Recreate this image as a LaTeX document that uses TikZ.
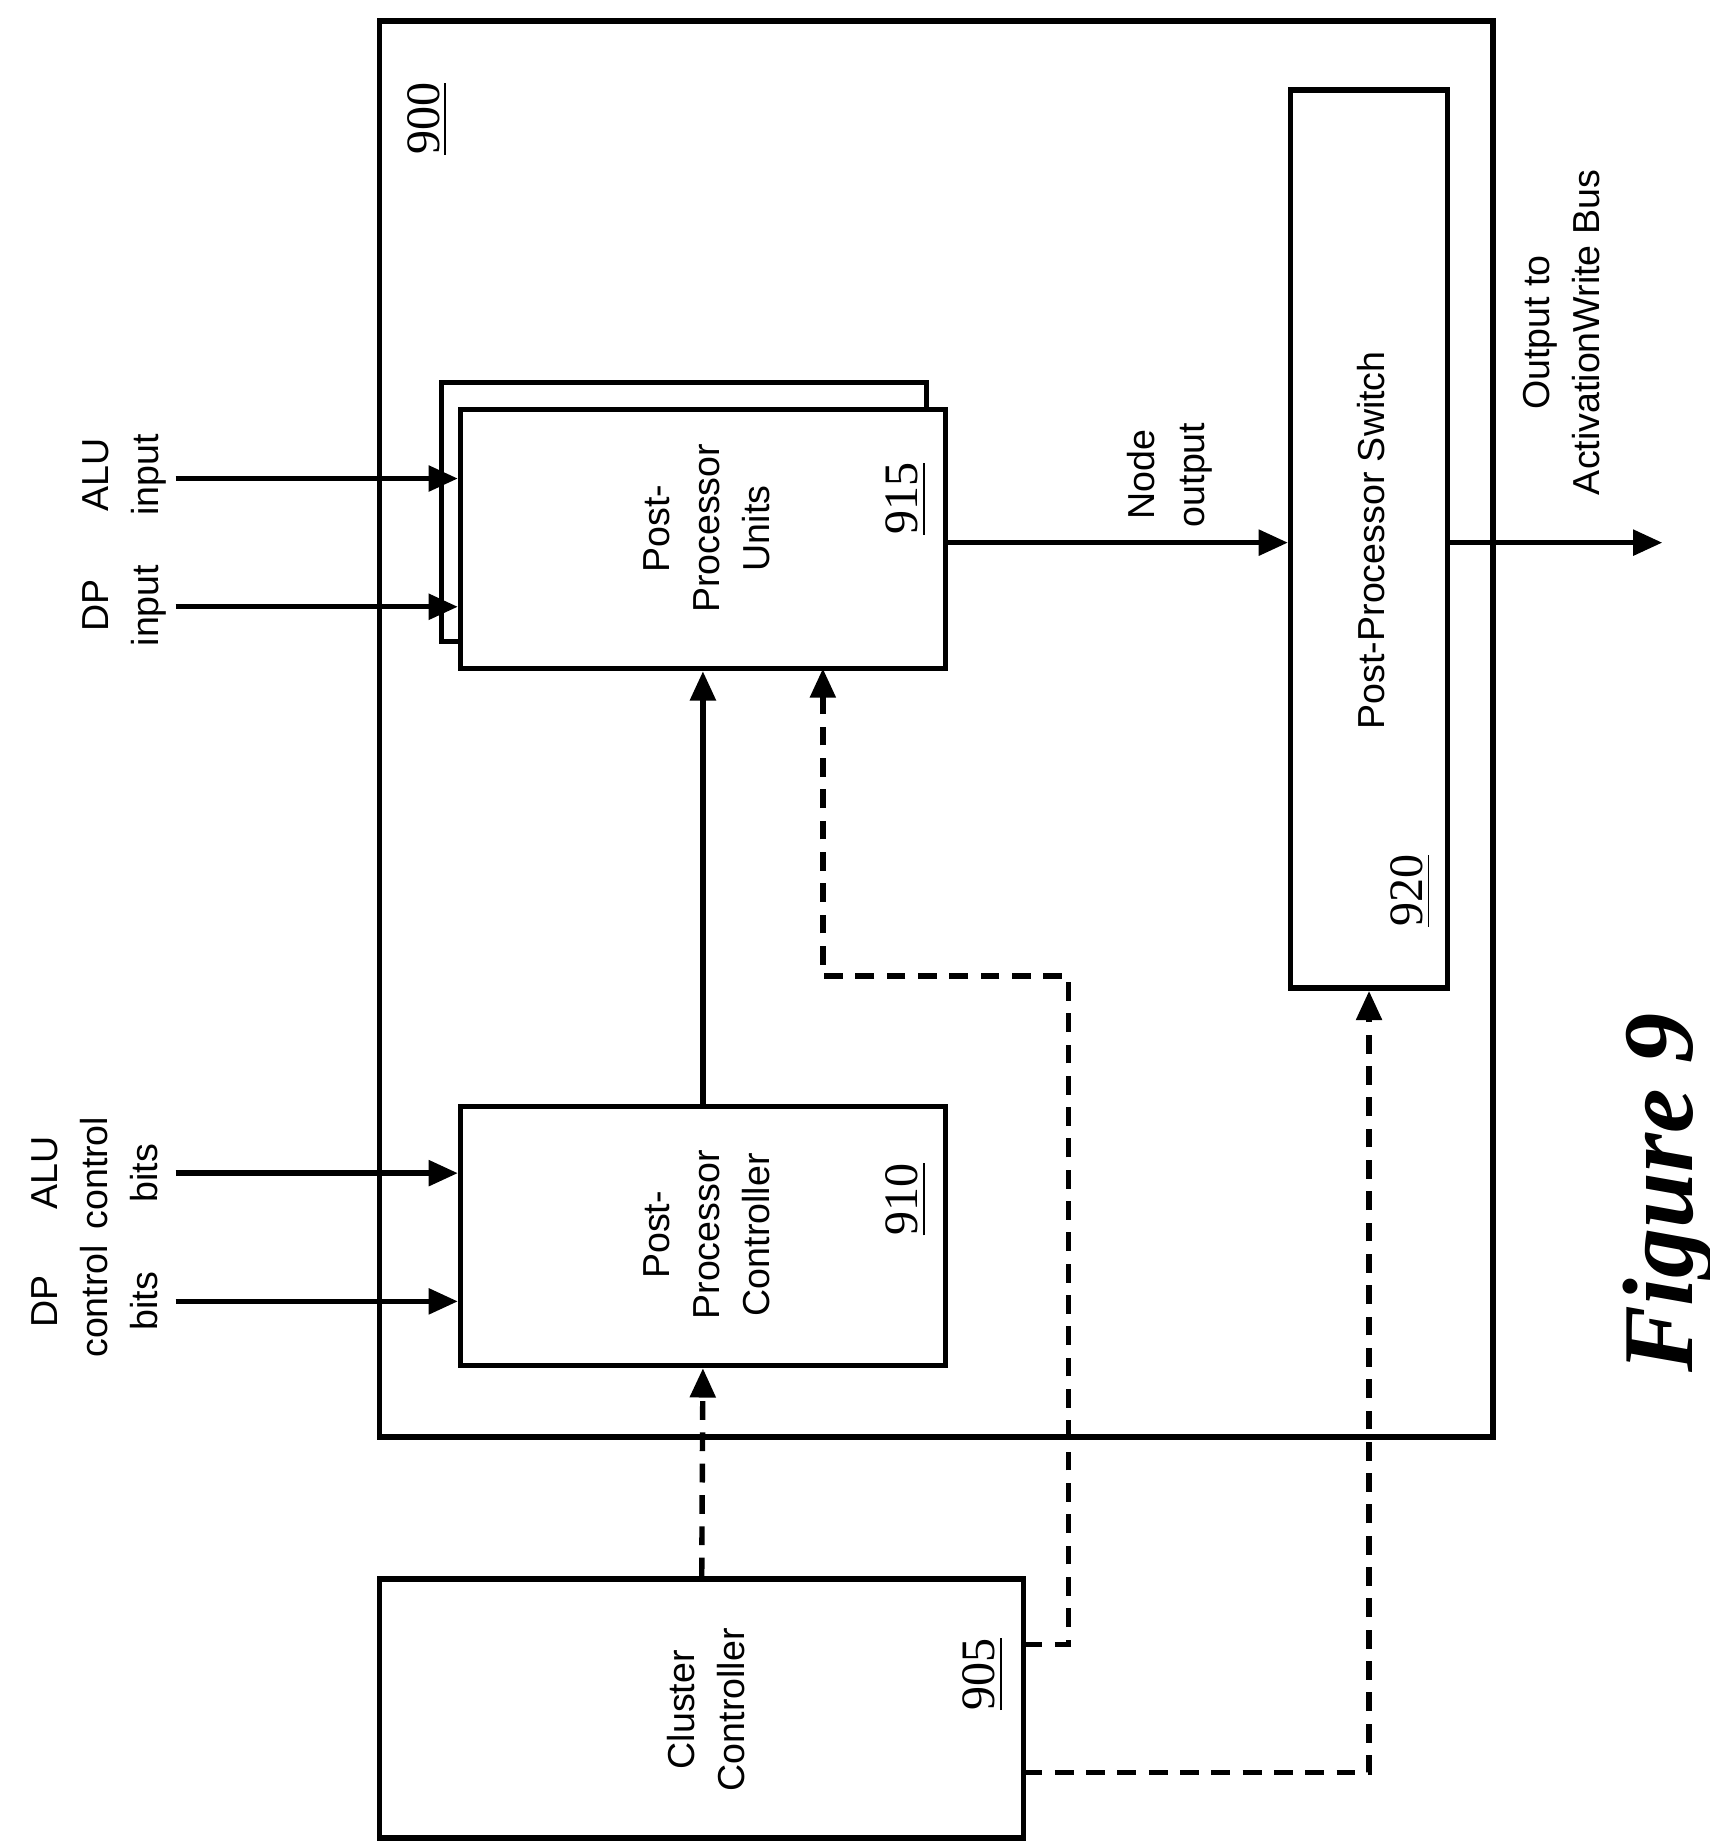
\documentclass[tikz,border=0pt]{standalone}
\usepackage{fontspec}
\setmainfont{Liberation Sans}
\newfontfamily\numfont{Liberation Serif}
\usetikzlibrary{arrows.meta}
\begin{document}
\begin{tikzpicture}[x=0.01cm,y=-0.01cm,
  box/.style={draw,line width=1.3pt,inner sep=0pt,fill=white},
  lbl/.style={rotate=90,align=center,font=\fontsize{9}{12}\selectfont},
  num/.style={rotate=90,font=\numfont\fontsize{11.5}{13}\selectfont},
  arr/.style={line width=1.3pt,-{Triangle[length=7pt,width=6pt]}},
  dsh/.style={arr,dash pattern=on 4.5pt off 3pt}]
\useasboundingbox (0,0) rectangle (1440,1553);
\node[box,minimum width=9.37cm,minimum height=11.92cm] (outer) at (788.5,614) {};
\node[num] at (360,100) {\underline{900}};
\node[box,minimum width=4.08cm,minimum height=2.18cm] (ppub) at (576,431) {};
\node[box,minimum width=4.08cm,minimum height=2.18cm] (ppu) at (592,454) {};
\node[lbl] at (595,445) {Post-\\Processor\\Units};
\node[num] at (763,420) {\underline{915}};
\node[box,minimum width=4.08cm,minimum height=2.18cm] (ctl) at (592,1041) {};
\node[lbl] at (595,1040) {Post-\\Processor\\Controller};
\node[num] at (763,1010) {\underline{910}};
\node[box,minimum width=1.32cm,minimum height=7.56cm] (sw) at (1153,454) {};
\node[lbl] at (1155,455) {Post-Processor Switch};
\node[num] at (1188,750) {\underline{920}};
\node[box,minimum width=5.42cm,minimum height=2.18cm] (cc) at (591,1439) {};
\node[lbl] at (595,1440) {Cluster\\Controller};
\node[num] at (828,1410) {\underline{905}};
% inputs
\coordinate (i1) at (148,403); \coordinate (i2) at (148,511);
\coordinate (c1) at (148,988); \coordinate (c2) at (148,1096);
\draw[arr] (i1) -- (ppu.west |- i1);
\draw[arr] (i2) -- (ppu.west |- i2);
\draw[arr] (c1) -- (ctl.west |- c1);
\draw[arr] (c2) -- (ctl.west |- c2);
\node[lbl] at (105,400) {ALU\\input};
\node[lbl] at (105,510) {DP\\input};
\node[lbl] at (80,988) {ALU\\control\\bits};
\node[lbl] at (80,1096) {DP\\control\\bits};
% internal
\draw[arr] (ctl.north) -- (ppu.south);
\draw[dsh] (cc.north) -- (ctl.south);
\coordinate (d1) at (862,1385); \coordinate (d2) at (862,1493);
\draw[dsh] (d1) -- (900,1385) -- (900,822) -- (693,822) -- (693,563);
\draw[dsh] (d2) -- (1153,1493) -- (sw.south);
\coordinate (n1) at (796,457);
\draw[arr] (n1) -- (sw.west |- n1);
\node[lbl] at (985,400) {Node\\output};
\coordinate (o1) at (1219,457); \coordinate (o2) at (1400,457);
\draw[arr] (o1) -- (o2);
\node[lbl] at (1315,280) {Output to\\ActivationWrite Bus};
\node[rotate=90,font=\numfont\bfseries\itshape\fontsize{24}{28}\selectfont] at (1405,1005) {Figure 9};
\end{tikzpicture}
\end{document}
